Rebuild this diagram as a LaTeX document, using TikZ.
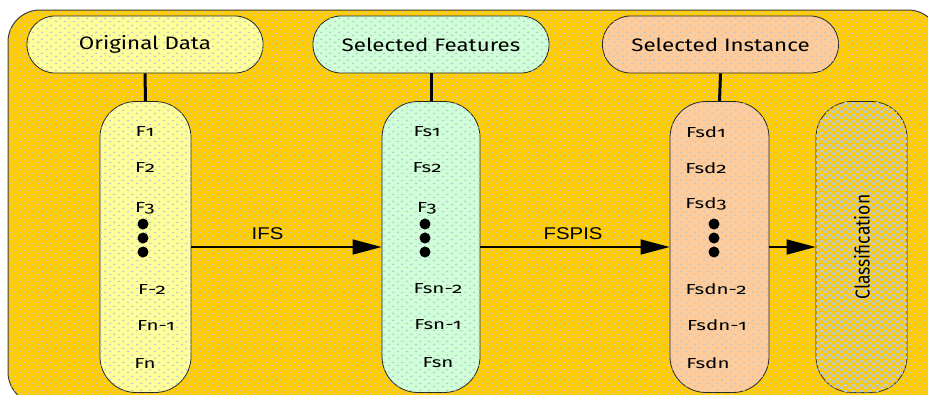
\documentclass[tikz,border=0pt]{standalone}
\usepackage{fontspec}
\setmainfont{Fira Sans}[Numbers=OldStyle]
\newfontfamily\headfont{Fira Sans}[Numbers=OldStyle,FakeStretch=1.24]
\newfontfamily\itemfont{Fira Sans}[Numbers=OldStyle,FakeStretch=1.42]
\newfontfamily\arialfont{Liberation Sans}[FakeStretch=1.2]
\usetikzlibrary{arrows.meta,patterns.meta}
\pgfdeclarepattern{
  name=bgdots,
  type=uncolored,
  bottom left={\pgfpoint{0pt}{0pt}},
  top right={\pgfpoint{9pt}{7pt}},
  tile size={\pgfpoint{9pt}{7pt}},
  code={
    \pgfpathellipse{\pgfpoint{2.25pt}{1.75pt}}{\pgfpoint{1.5pt}{0pt}}{\pgfpoint{0pt}{1pt}}
    \pgfpathellipse{\pgfpoint{6.75pt}{5.25pt}}{\pgfpoint{1.5pt}{0pt}}{\pgfpoint{0pt}{1pt}}
    \pgfusepath{fill}
  }
}
\pgfdeclarepattern{
  name=checker,
  type=uncolored,
  bottom left={\pgfpoint{0pt}{0pt}},
  top right={\pgfpoint{8pt}{6pt}},
  tile size={\pgfpoint{8pt}{6pt}},
  code={
    \pgfpathrectangle{\pgfpoint{0pt}{0pt}}{\pgfpoint{4pt}{3pt}}
    \pgfpathrectangle{\pgfpoint{4pt}{3pt}}{\pgfpoint{4pt}{3pt}}
    \pgfusepath{fill}
  }
}
\definecolor{bgyellow}{RGB}{255,204,0}
\definecolor{dotgrey}{RGB}{192,200,214}
\definecolor{lightyellow}{RGB}{255,255,153}
\definecolor{lightgreen}{RGB}{206,255,214}
\definecolor{peach}{RGB}{255,204,153}
\definecolor{classgrey}{RGB}{192,200,210}
\definecolor{edgegrey}{RGB}{60,60,60}
\tikzset{
  dotted bg/.style={postaction={pattern=bgdots,pattern color=dotgrey}},
  header/.style={draw=black!85,line width=0.8pt,rounded corners=28pt,minimum width=236pt,minimum height=57pt,font=\headfont\fontsize{18}{20}\selectfont,inner sep=0pt},
  column/.style={draw=black!85,line width=0.8pt,rounded corners=36pt,minimum height=291pt,inner sep=0pt},
  item/.style={font=\itemfont\fontsize{14.5}{16}\selectfont,inner sep=0pt},
  bigdot/.style={circle,fill=black,minimum size=11pt,inner sep=0pt},
  link/.style={line width=3pt},
  flow/.style={line width=1.6pt,-{Triangle[length=29pt,width=15pt]}},
  flowlabel/.style={font=\arialfont\fontsize{17}{19}\selectfont,inner sep=0pt}
}
\begin{document}
\begin{tikzpicture}[x=1pt,y=-1pt]
\useasboundingbox (0,0) rectangle (928,394);
\clip (0,0) rectangle (928,394);
\fill[white] (0,0) rectangle (928,394);
% outer panel
\path[draw=edgegrey,line width=1pt,fill=bgyellow,rounded corners=32pt,dotted bg] (8,10) rectangle (940,404);
% headers
\node[header,fill=lightyellow,dotted bg] (h1) at (145,44.5) {Original Data};
\node[header,fill=lightgreen,dotted bg] (h2) at (431,44.5) {Selected Features};
\node[header,fill=peach,dotted bg] (h3) at (720.5,44.5) {Selected Instance};
% columns
\node[column,fill=lightyellow,dotted bg,minimum width=91pt] (c1) at (145.5,247) {};
\node[column,fill=lightgreen,dotted bg,minimum width=98pt] (c2) at (431,247) {};
\node[column,fill=bgyellow,postaction={pattern=checker,pattern color=classgrey},minimum width=91pt] (c4) at (861.5,247) {};
\node[column,fill=peach,dotted bg,minimum width=99pt] (c3) at (719.5,247) {};
\node[inner sep=0pt,font=\fontsize{17.5}{19}\selectfont,xscale=1.15,rotate=90] (cl) at (862,247) {Classification};
% header links
\draw[link] (h1.south) -- (c1.north);
\draw[link] (h2.south) -- (c2.north);
\draw[link] (h3.south) -- (c3.north);
% column 1 items
\node[item] (a1) at (145,132) {F1};
\node[item] (a2) at (145,168) {F2};
\node[item] (a3) at (145,208) {F3};
\node[bigdot] (ad1) at (143,224) {};
\node[bigdot] (ad2) at (143,238) {};
\node[bigdot] (ad3) at (143,252) {};
\node[item] (a4) at (152,289) {F-2};
\node[item] (a5) at (156,325) {Fn-1};
\node[item] (a6) at (145,363) {Fn};
% column 2 items
\node[item] (b1) at (427,132) {Fs1};
\node[item] (b2) at (427,168) {Fs2};
\node[item] (b3) at (427,208) {F3};
\node[bigdot] (bd1) at (425,224) {};
\node[bigdot] (bd2) at (425,238) {};
\node[bigdot] (bd3) at (425,252) {};
\node[item] (b4) at (438,289) {Fsn-2};
\node[item] (b5) at (438,325) {Fsn-1};
\node[item] (b6) at (438,363) {Fsn};
% column 3 items
\node[item] (d1) at (706,132) {Fsd1};
\node[item] (d2) at (706,168) {Fsd2};
\node[item] (d3) at (706,204) {Fsd3};
\node[bigdot] (dd1) at (714,224) {};
\node[bigdot] (dd2) at (714,238) {};
\node[bigdot] (dd3) at (714,252) {};
\node[item] (d4) at (716,289) {Fsdn-2};
\node[item] (d5) at (717,325) {Fsdn-1};
\node[item] (d6) at (708,363) {Fsdn};
% flow arrows
\draw[flow] (c1.east) -- node[flowlabel,pos=0.4,above=7pt] {IFS} (c2.west);
\draw[flow] (c2.east) -- node[flowlabel,pos=0.49,above=7pt] {FSPIS} (c3.west);
\draw[flow] (c3.east) -- (c4.west);
\end{tikzpicture}
\end{document}
